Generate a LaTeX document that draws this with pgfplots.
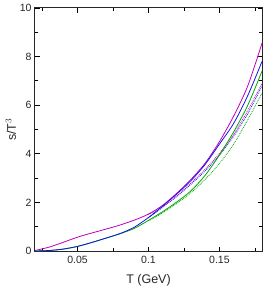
\documentclass[border=0pt]{standalone}
\usepackage{fontspec}
\setmainfont{Liberation Sans}
\usepackage{pgfplots}
\pgfplotsset{compat=1.18}
\usetikzlibrary{calc}
\definecolor{cmag}{RGB}{190,0,190}
\definecolor{cblue}{RGB}{20,20,230}
\definecolor{cgreen}{RGB}{0,170,0}
\begin{document}
\begin{tikzpicture}
\begin{axis}[
  scale only axis,
  width=227pt, height=243pt,
  xmin=0.02, xmax=0.18, ymin=0, ymax=10,
  xtick={0.05,0.1,0.15}, xticklabels={0.05,0.1,0.15},
  minor xtick={0.025,0.075,0.125,0.175},
  ytick={0,2,4,6,8,10},
  minor ytick={1,3,5,7,9},
  tick align=inside,
  major tick length=4.5pt, minor tick length=3pt,
  tick style={black, line width=0.8pt},
  axis line style={line width=1pt, black!85},
  /pgf/number format/assume math mode=true,
  ticklabel style={font=\fontsize{10.5}{12}\selectfont, text=black!85},
  xticklabel style={yshift=-2pt},
  xlabel={T (GeV)}, ylabel={s/T$^{3}$},
  label style={font=\fontsize{12.5}{14}\selectfont, text=black!85},
  xlabel style={yshift=-4pt},
  ylabel style={yshift=-3pt},
  every axis plot/.append style={line width=0.8pt, smooth, no markers},
]
% green dotted
\addplot[cgreen, densely dotted] coordinates {
(0.10,1.24)(0.11,1.57)(0.12,1.96)(0.13,2.40)(0.14,2.95)(0.15,3.60)(0.16,4.40)(0.17,5.40)(0.18,6.50)};
% blue dotted
\addplot[cblue, densely dotted] coordinates {
(0.10,1.36)(0.11,1.80)(0.12,2.25)(0.13,2.75)(0.14,3.30)(0.15,3.95)(0.16,4.72)(0.17,5.65)(0.18,6.80)};
% magenta dotted
\addplot[cmag, densely dotted] coordinates {
(0.10,1.50)(0.11,1.82)(0.12,2.27)(0.13,2.80)(0.14,3.37)(0.15,4.02)(0.16,4.80)(0.17,5.78)(0.18,6.90)};
% green solid
\addplot[cgreen] coordinates {
(0.02,0.00)(0.03,0.02)(0.04,0.08)(0.05,0.19)(0.06,0.35)(0.07,0.53)(0.08,0.71)(0.09,0.93)(0.10,1.26)(0.11,1.62)(0.12,2.02)(0.13,2.48)(0.14,3.12)(0.15,3.95)(0.16,4.90)(0.17,6.00)(0.18,7.40)};
% magenta solid
\addplot[cmag] coordinates {
(0.02,0.02)(0.03,0.16)(0.04,0.36)(0.05,0.57)(0.06,0.74)(0.07,0.90)(0.08,1.07)(0.09,1.27)(0.10,1.52)(0.11,1.88)(0.12,2.38)(0.13,2.95)(0.14,3.62)(0.15,4.50)(0.16,5.55)(0.17,6.80)(0.18,8.55)};
% blue solid
\addplot[cblue] coordinates {
(0.02,0.00)(0.03,0.02)(0.04,0.08)(0.05,0.19)(0.06,0.35)(0.07,0.53)(0.08,0.72)(0.09,0.98)(0.10,1.38)(0.11,1.85)(0.12,2.35)(0.13,2.90)(0.14,3.57)(0.15,4.40)(0.16,5.25)(0.17,6.40)(0.18,7.80)};
\end{axis}
\pgfresetboundingbox
\path[use as bounding box] ($(current axis.south west)+(-35pt,-41pt)$) rectangle ($(current axis.north east)+(14pt,8pt)$);
\end{tikzpicture}
\end{document}
